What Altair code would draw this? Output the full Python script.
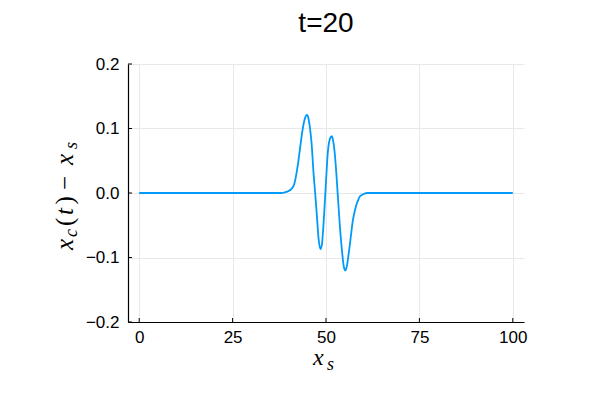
import altair as alt
import pandas as pd

# ---- data ----
xs_vals = [0, 10, 20, 30, 35, 38, 39, 40, 40.5, 41, 41.5, 42, 42.5, 43, 43.5, 44, 44.5,
           44.9, 45.3, 45.7, 46.1, 46.7, 47.1, 47.6, 48.0, 48.5, 48.9, 49.2, 49.7, 50.1,
           50.5, 51.2, 51.6, 52.0, 52.3, 52.8, 53.2, 53.7, 54.3, 54.8, 55.2, 55.6, 56.0,
           56.3, 56.8, 57.2, 57.7, 58.1, 58.6, 59.0, 59.6, 60.3, 61, 65, 70, 80, 90, 100]
dev_vals = [0, 0, 0, 0, 0, 0, 0.001, 0.003, 0.005, 0.008, 0.014, 0.027, 0.045, 0.067, 0.089,
            0.107, 0.118, 0.121, 0.116, 0.101, 0.080, 0.028, 0.000, -0.039, -0.070, -0.087,
            -0.080, -0.060, -0.013, 0.028, 0.064, 0.086, 0.088, 0.078, 0.064, 0.028, -0.008,
            -0.050, -0.091, -0.115, -0.120, -0.113, -0.097, -0.084, -0.060, -0.042, -0.028,
            -0.019, -0.011, -0.006, -0.003, -0.001, 0, 0, 0, 0, 0, 0]
x_ticks = [0, 25, 50, 75, 100]
y_ticks = [-0.2, -0.1, 0.0, 0.1, 0.2]
title_text = "t=20"

W, H = 396, 258

df = pd.DataFrame({"xs": xs_vals, "dev": dev_vals})

xscale = alt.Scale(domain=[-3, 103], nice=False, zero=False)
yscale = alt.Scale(domain=[-0.2, 0.2], nice=False, zero=False)

axis_common = dict(grid=True, gridColor="#e8e8e8", gridWidth=1, domainColor="black",
                   domainWidth=1.2, ticks=False, labelFont="Liberation Sans",
                   labelFontSize=17, labelColor="black", title=None)
xaxis = alt.Axis(values=x_ticks, labelPadding=7, **axis_common)
yaxis = alt.Axis(values=y_ticks, format=".1f", labelPadding=9, **axis_common)

line = alt.Chart(df).mark_line(color="#009AFA", strokeWidth=1.8, interpolate="monotone").encode(
    x=alt.X("xs:Q", scale=xscale, axis=xaxis),
    y=alt.Y("dev:Q", scale=yscale, axis=yaxis),
)

xt = alt.Chart(pd.DataFrame({"xs": x_ticks})).mark_rule(color="black", strokeWidth=1).encode(
    x=alt.X("xs:Q", scale=xscale, axis=xaxis), y=alt.value(H), y2=alt.value(H - 4))
yt = alt.Chart(pd.DataFrame({"dev": y_ticks})).mark_rule(color="black", strokeWidth=1).encode(
    y=alt.Y("dev:Q", scale=yscale, axis=yaxis), x=alt.value(0), x2=alt.value(4))


def piece(txt, x, y, size, angle=0, font="Liberation Serif", style="italic", baseline="alphabetic", align="left"):
    return alt.Chart(pd.DataFrame({"a": [0]})).mark_text(
        font=font, fontStyle=style, fontSize=size, angle=angle, align=align,
        baseline=baseline, color="black").encode(
        x=alt.value(x), y=alt.value(y), text=alt.value(txt))


ox, oy = 128, 64  # page position of plot origin
pieces = [
    piece(title_text, 198, 32 - oy, 28, font="Liberation Sans", style="normal", align="center"),
    # x label: x_s
    piece("x", 313 - ox, 365 - oy, 24),
    piece("s", 327 - ox, 369.5 - oy, 18),
    # y label: x_c(t) - x_s  (rotated)
    piece("x", 73 - ox, 250 - oy, 25, angle=270),
    piece("c", 77 - ox, 237 - oy, 18, angle=270),
    piece("(", 73 - ox, 226 - oy, 25, angle=270, style="normal"),
    piece("t", 73 - ox, 215 - oy, 25, angle=270),
    piece(")", 73 - ox, 204.5 - oy, 25, angle=270, style="normal"),
    piece("\u2212", 73 - ox, 190 - oy, 25, angle=270, style="normal"),
    piece("x", 73 - ox, 165 - oy, 25, angle=270),
    piece("s", 77 - ox, 149 - oy, 18, angle=270),
]

chart = alt.layer(line, xt, yt, *pieces).properties(
    width=W, height=H,
    autosize=alt.AutoSizeParams(type="none"),
    padding={"left": ox - 8, "top": oy - 8, "right": 60, "bottom": 60},
).configure_view(stroke=None)

chart.save("out.html", embed_options={"renderer": "svg", "actions": False})
